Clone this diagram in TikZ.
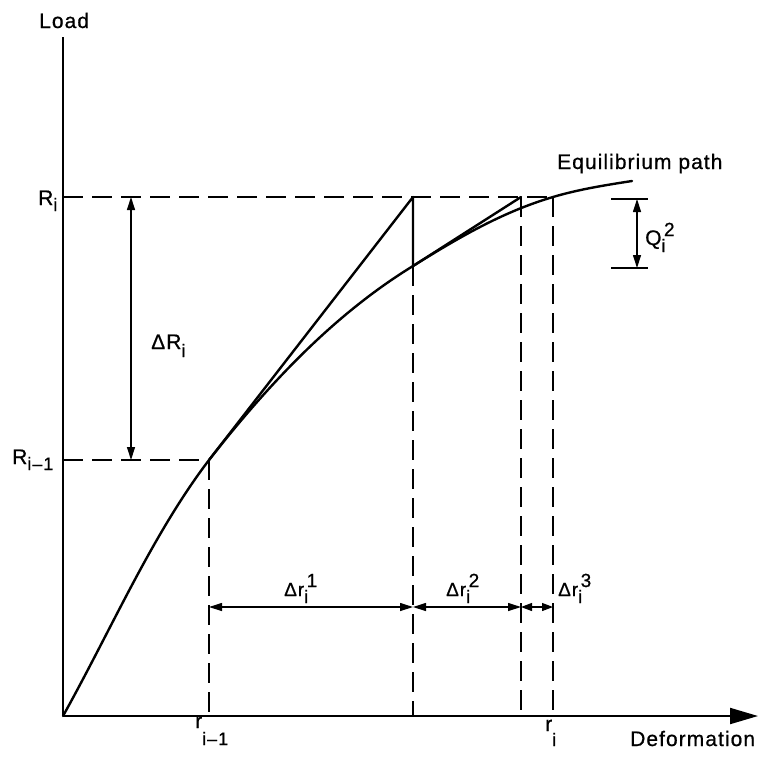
\documentclass[tikz,border=0pt]{standalone}
\usepackage{fontspec}
\setmainfont{Liberation Sans}[LetterSpace=5, FakeBold=0.7]
\usetikzlibrary{arrows.meta}
\newcommand\lbsub[2][-6pt]{\raisebox{#1}{\fontsize{18}{18}\selectfont #2}}
\newcommand\lbsubsup[2]{\rlap{\raisebox{-7pt}{\fontsize{18}{18}\selectfont #1}}\hspace{2.5pt}\raisebox{9pt}{\fontsize{19}{19}\selectfont #2}}
\begin{document}
\begin{tikzpicture}[x=1pt,y=-1pt,
  lbl/.style={inner sep=0pt, anchor=base west, font=\fontsize{21}{21}\selectfont},
  slbl/.style={inner sep=0pt, anchor=base west, font=\fontsize{19}{19}\selectfont},
  curve/.style={line width=2.4pt, line join=round, line cap=round},
  axis/.style={line width=2pt},
  guide/.style={line width=1.4pt, dash pattern=on 20pt off 9pt},
  dim/.style={line width=1.2pt, {Triangle[length=13pt,width=8pt]}-{Triangle[length=13pt,width=8pt]}},
  sdim/.style={line width=1.2pt, {Triangle[length=11pt,width=8pt]}-{Triangle[length=11pt,width=8pt]}},
  tickline/.style={line width=1.4pt}]
\useasboundingbox (0,0) rectangle (759,758);
% key points
\coordinate (O) at (63,716);
\coordinate (ytop) at (63,37);
\coordinate (xend) at (758,716);
\coordinate (A) at (209,460);
\coordinate (B) at (413,197);
\coordinate (C) at (413,266);
\coordinate (D) at (521,197);
\coordinate (E) at (553,197);
\coordinate (F) at (632,181);
\coordinate (Ri) at (63,197);
\coordinate (Rim) at (63,460);
\coordinate (xA) at (209,716);
\coordinate (xC) at (413,716);
\coordinate (xD) at (521,716);
\coordinate (xE) at (553,716);
% axes
\draw[axis] (O) -- (ytop);
\draw[axis, -{Triangle[length=28pt,width=16pt]}] (O) -- (xend);
% guides
\draw[guide] (Ri) -- (E);
\draw[guide] (Rim) -- (A);
\draw[guide] (A) -- (xA);
\draw[guide] (C) -- (xC);
\draw[guide] (D) -- (xD);
\draw[guide] (E) -- (xE);
% equilibrium path
\draw[curve] (O) .. controls (112,628) and (152,535) .. (A)
  .. controls (267,386) and (333,315) .. (C)
  .. controls (458,238) and (502,212) .. (E)
  .. controls (578,189.5) and (606,185) .. (F);
% iterations
\draw[curve] (A) -- (B) -- (C);
\draw[curve] (C) -- (D);
% dimension arrows
\coordinate (dRa) at (131,197);
\coordinate (dRb) at (131,460);
\draw[dim] (dRb) -- (dRa);
\coordinate (d1a) at (209,607);
\coordinate (d1b) at (413,607);
\coordinate (d2b) at (521,607);
\coordinate (d3b) at (553,607);
\draw[dim] (d1a) -- (d1b);
\draw[dim] (d1b) -- (d2b);
\draw[sdim] (d2b) -- (d3b);
\coordinate (q1a) at (611,199);
\coordinate (q1b) at (648,199);
\coordinate (q2a) at (611,268);
\coordinate (q2b) at (648,268);
\coordinate (qa) at (637,199);
\coordinate (qb) at (637,268);
\draw[tickline] (q1a) -- (q1b);
\draw[tickline] (q2a) -- (q2b);
\draw[dim] (qa) -- (qb);
% labels
\node[lbl] (load) at (39,28) {Load};
\node[lbl] (deform) at (630,746) {Deformation};
\node[lbl] (eq) at (557,169) {Equilibrium path};
\node[lbl] (lRi) at (38,205) {R\lbsub{i}};
\node[lbl] (lRim) at (12,464) {R\lbsub{i\kern1pt–\kern1pt1}};
\node[lbl] (ldR) at (151,349) {ΔR\lbsub[-8pt]{i}};
\node[lbl] (lQ) at (645,245) {Q\lbsubsup{i}{2}};
\node[slbl] (l1) at (284,596) {Δr\lbsubsup{i}{1}};
\node[slbl] (l2) at (446,596) {Δr\lbsubsup{i}{2}};
\node[slbl] (l3) at (558,596) {Δr\lbsubsup{i}{3}};
\node[lbl] (lrim) at (195,728) {r\lbsub[-17pt]{i\kern1pt–\kern1pt1}};
\node[lbl] (lri) at (545,731) {r\lbsub[-15pt]{i}};
\end{tikzpicture}
\end{document}
